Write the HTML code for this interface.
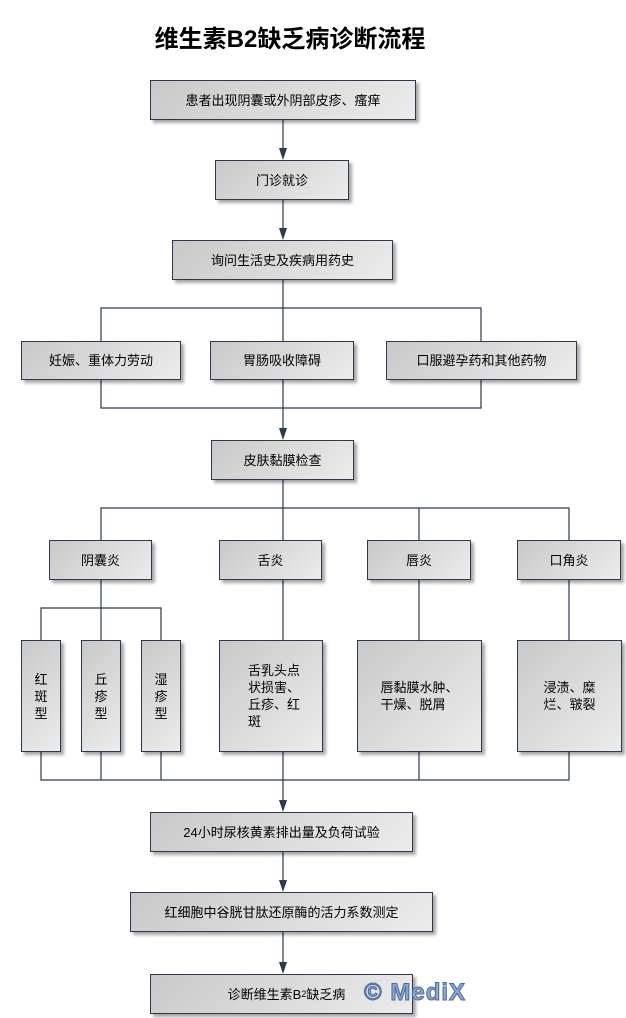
<!DOCTYPE html>
<html><head><meta charset="utf-8"><style>
body{margin:0;width:626px;height:1018px;background:#fff;position:relative;overflow:hidden;font-family:"Liberation Sans","Noto Sans CJK SC",sans-serif;}
.b{position:absolute;box-sizing:border-box;border:1px solid #2b3a4e;background:linear-gradient(135deg,#c9c9c9,#ececec);box-shadow:3px 3px 3px rgba(0,0,0,0.35);display:flex;align-items:center;justify-content:center;text-align:center;font-size:13px;color:#000;line-height:17px;}
.t{position:absolute;left:0;width:580px;top:19px;text-align:center;font-size:24px;font-weight:bold;}
svg{position:absolute;left:0;top:0;}
.w{position:absolute;left:364px;top:979px;font-size:24px;font-weight:bold;color:#8fa8d0;-webkit-text-stroke:1px #4b6a9a;letter-spacing:1px;}
</style></head><body>
<div class="t">维生素B2缺乏病诊断流程</div>
<svg width="626" height="1018">
<g stroke="#2b3a4e" stroke-width="1.2" fill="none">
<line x1="283" y1="120" x2="283" y2="152"/>
<line x1="283" y1="200" x2="283" y2="232"/>
<line x1="283" y1="280" x2="283" y2="308"/>
<polyline points="101,341 101,308 481,308 481,341"/>
<line x1="283" y1="308" x2="283" y2="341"/>
<polyline points="101,380 101,408 481,408 481,380"/>
<line x1="283" y1="380" x2="283" y2="432"/>
<line x1="283" y1="480" x2="283" y2="540"/>
<polyline points="101,540 101,508 569,508 569,540"/>
<line x1="419" y1="508" x2="419" y2="540"/>
<line x1="101" y1="580" x2="101" y2="640"/>
<polyline points="41,640 41,608 161,608 161,640"/>
<line x1="283" y1="580" x2="283" y2="640"/>
<line x1="419" y1="580" x2="419" y2="640"/>
<line x1="569" y1="580" x2="569" y2="640"/>
<polyline points="41,752 41,780 569,780 569,752"/>
<line x1="101" y1="752" x2="101" y2="780"/>
<line x1="161" y1="752" x2="161" y2="780"/>
<line x1="419" y1="752" x2="419" y2="780"/>
<line x1="283" y1="752" x2="283" y2="804"/>
<line x1="283" y1="852" x2="283" y2="884"/>
<line x1="283" y1="932" x2="283" y2="966"/>
</g>
<g fill="#2b3a4e">
<polygon points="279,148 287,148 283,160"/>
<polygon points="279,228 287,228 283,240"/>
<polygon points="279,428 287,428 283,440"/>
<polygon points="279,800 287,800 283,812"/>
<polygon points="279,880 287,880 283,892"/>
<polygon points="279,962 287,962 283,974"/>
</g></svg>
<div class="b" style="left:150px;top:80px;width:266px;height:40px">患者出现阴囊或外阴部皮疹、瘙痒</div>
<div class="b" style="left:215px;top:160px;width:134px;height:40px">门诊就诊</div>
<div class="b" style="left:172px;top:240px;width:221px;height:40px">询问生活史及疾病用药史</div>
<div class="b" style="left:21px;top:341px;width:160px;height:39px">妊娠、重体力劳动</div>
<div class="b" style="left:210px;top:341px;width:144px;height:39px">胃肠吸收障碍</div>
<div class="b" style="left:386px;top:341px;width:191px;height:39px">口服避孕药和其他药物</div>
<div class="b" style="left:211px;top:440px;width:143px;height:40px">皮肤黏膜检查</div>
<div class="b" style="left:49px;top:540px;width:103px;height:40px">阴囊炎</div>
<div class="b" style="left:219px;top:540px;width:103px;height:40px">舌炎</div>
<div class="b" style="left:367px;top:540px;width:104px;height:40px">唇炎</div>
<div class="b" style="left:517px;top:540px;width:104px;height:40px">口角炎</div>
<div class="b" style="left:21px;top:640px;width:40px;height:112px">红<br>斑<br>型</div>
<div class="b" style="left:81px;top:640px;width:40px;height:112px">丘<br>疹<br>型</div>
<div class="b" style="left:141px;top:640px;width:40px;height:112px">湿<br>疹<br>型</div>
<div class="b" style="left:219px;top:640px;width:104px;height:112px;justify-content:flex-start;text-align:left;padding-left:28px;padding-right:14px">舌乳头点状损害、丘疹、红斑</div>
<div class="b" style="left:357px;top:640px;width:125px;height:112px;text-align:left;white-space:nowrap"><div>唇黏膜水肿、<br>干燥、脱屑</div></div>
<div class="b" style="left:517px;top:640px;width:105px;height:112px;padding:0 18px">浸渍、糜烂、皲裂</div>
<div class="b" style="left:150px;top:812px;width:263px;height:40px">24小时尿核黄素排出量及负荷试验</div>
<div class="b" style="left:130px;top:892px;width:303px;height:40px">红细胞中谷胱甘肽还原酶的活力系数测定</div>
<div class="b" style="left:150px;top:974px;width:263px;height:40px;padding-left:10px">诊断维生素B<span style="font-size:9px;vertical-align:-2px">2</span>缺乏病</div>
<div class="w">© MediX</div>
</body></html>
